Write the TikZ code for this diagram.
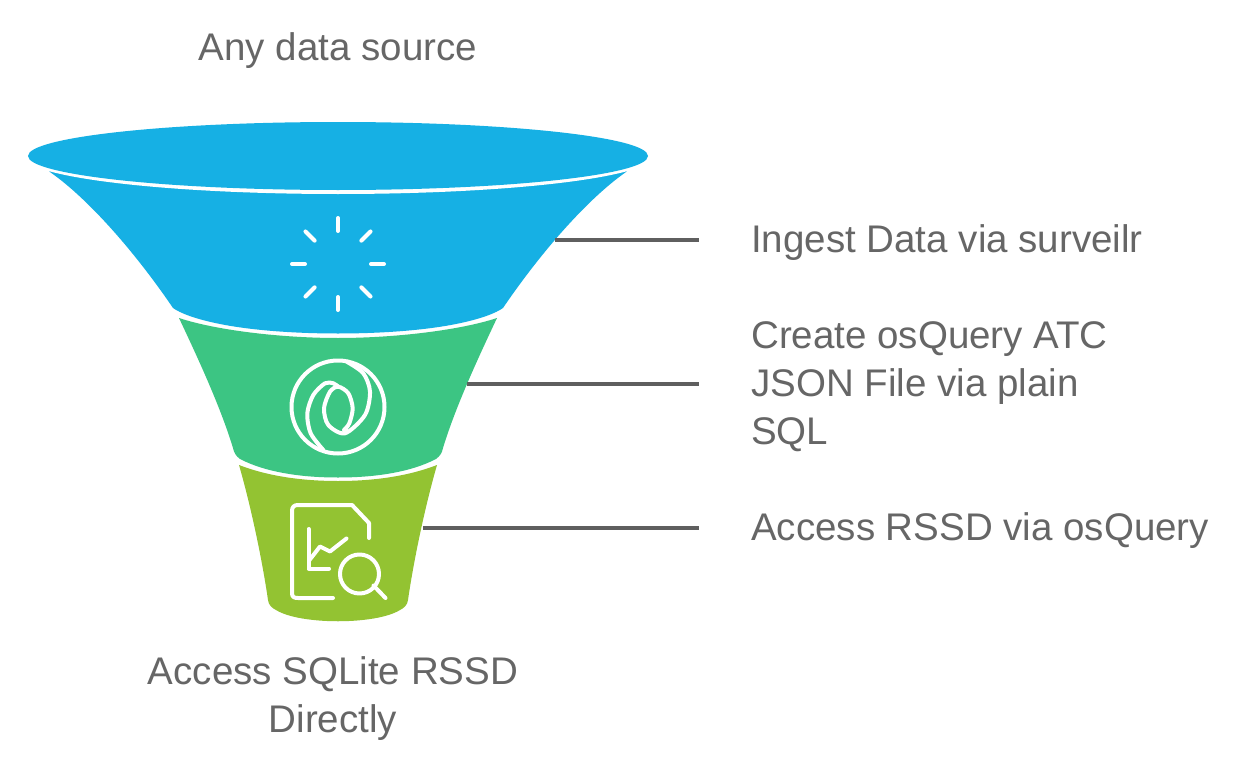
\documentclass[tikz,border=0pt]{standalone}
\usepackage{fontspec}
\setmainfont{Liberation Sans}
\usetikzlibrary{arrows, shapes, positioning}

\definecolor{skyblue}{HTML}{16B0E4}
\definecolor{leafgreen}{HTML}{3CC583}
\definecolor{olivegreen}{HTML}{93C332}
\definecolor{textgray}{HTML}{666666}
\definecolor{linegray}{HTML}{5F5F5F}

\tikzset{
  caption/.style={inner sep=0, text=textgray, align=center, font=\fontsize{38.5}{48}\selectfont},
  sidelabel/.style={caption, anchor=west, align=left},
  leader/.style={draw=linegray, line width=4, shorten >=52},
  icon/.style={draw=white, line width=4, line cap=round, line join=round},
}

\begin{document}
\begin{tikzpicture}[x=1pt, y=-1pt]
    \useasboundingbox[fill=white] (0,0) rectangle (1251,768);

    % funnel %
      \fill[leafgreen] (179,318) .. controls (195,352) and (220,405) .. (233,448)
        .. controls (234,453) and (236,456) .. (240,459)
        .. controls (265,472) and (300,477.5) .. (338,477.5)
        .. controls (376,477.5) and (411,472) .. (436,459)
        .. controls (440,456) and (442,453) .. (443,448)
        .. controls (456,405) and (481,352) .. (497,318)
        .. controls (461,330) and (396,338) .. (338,338)
        .. controls (280,338) and (215,330) .. (179,318) -- cycle;
      \fill[olivegreen] (239,465) .. controls (252,510) and (263,565) .. (268,600)
        .. controls (268.5,605) and (272,608) .. (276,610)
        .. controls (300,625) and (376,625) .. (400,610)
        .. controls (404,608) and (407.5,605) .. (408,600)
        .. controls (413,565) and (424,510) .. (437,465)
        .. controls (406,477) and (371,481) .. (338,481)
        .. controls (305,481) and (270,477) .. (239,465) -- cycle;
      \fill[skyblue] (40,160) -- (50,172) .. controls (90,200) and (137,255) .. (173,308)
        .. controls (180,313) and (195,319) .. (220,324)
        .. controls (255,331) and (300,333.5) .. (338,333.5)
        .. controls (376,333.5) and (421,331) .. (456,324)
        .. controls (481,319) and (496,313) .. (503,308)
        .. controls (539,255) and (586,200) .. (626,172) -- (636,160) -- cycle;
      \fill[white] (338,156) ellipse [x radius=315, y radius=38];
      \fill[skyblue] (338,156) ellipse [x radius=310, y radius=34];

    % icons %
      \foreach \ang in {0,45,...,315}
        \draw[icon] (338,264) ++(\ang:33) -- ++(\ang:13);

      \draw[icon] (338,407) circle (46.5);
      \draw[icon] plot[smooth] coordinates {(346.7,361.7) (363.3,373.3) (370,391.7) (365,415) (345,433.3) (328.3,425) (324,408.3) (330,391.7) (338.3,386.7) (348.3,393.3) (352.7,408.3) (349.3,423.3) (344,430)};
      \draw[icon] plot[smooth] coordinates {(323.3,450) (310.7,433.3) (307.3,413.3) (313.3,395) (325,383.3) (333.3,383.3) (338.3,386.7)};

      \draw[icon] (369,538) -- (369,523) -- (352,505) -- (298,505)
        .. controls (294,505) and (292,507) .. (292,511) -- (292,593)
        .. controls (292,597) and (294,598) .. (298,598) -- (333,598);
      \draw[icon] (308.5,529) -- (308.5,568.5) -- (329,568.5);
      \draw[icon] (309.5,560) -- (320,546.5) -- (330,551.5) -- (346.5,538.5);
      \draw[icon] (359.5,574) circle (19.5);
      \draw[icon] (373.5,585.5) -- (385.5,598);

    % nodes %
      \node[caption] (source) at (338,51) {Any data source};
      \node[caption] (sink) at (333,699) {Access SQLite RSSD\\Directly};
      \node[sidelabel] (ingest) at (751,243) {Ingest Data via surveilr};
      \node[sidelabel] (create) at (751,387) {Create osQuery ATC\\JSON File via plain\\SQL};
      \node[sidelabel] (access) at (751,531) {Access RSSD via osQuery};

      \coordinate (ingestfoot) at (555,240);
      \coordinate (createfoot) at (467,384);
      \coordinate (accessfoot) at (423,528);

    % edges %
      \draw[leader] (ingestfoot) -- (ingestfoot -| ingest.west);
      \draw[leader] (createfoot) -- (createfoot -| create.west);
      \draw[leader] (accessfoot) -- (accessfoot -| access.west);
\end{tikzpicture}
\end{document}
